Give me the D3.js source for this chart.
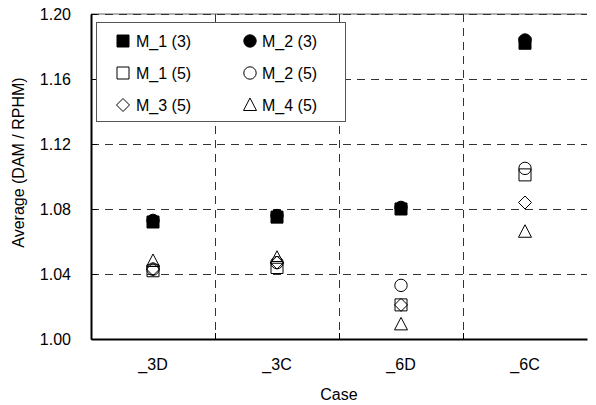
<!DOCTYPE html>
<html><head><meta charset="utf-8">
<script src="https://cdn.jsdelivr.net/npm/d3@7"></script>
<style>body{margin:0;background:#fff}svg{display:block}text{font-family:"Liberation Sans",Arial,sans-serif;fill:#000}</style>
</head><body>
<svg id="c" width="596" height="405"></svg>
<script>
const cases = ["_3D", "_3C", "_6D", "_6C"];
const m1_3 = [1.072, 1.075, 1.080, 1.182];
const m2_3 = [1.073, 1.076, 1.081, 1.184];
const m1_5 = [1.042, 1.044, 1.021, 1.101];
const m2_5 = [1.043, 1.047, 1.033, 1.105];
const m3_5 = [1.043, 1.047, 1.021, 1.084];
const m4_5 = [1.048, 1.050, 1.009, 1.066];
const yTicks = [1.00, 1.04, 1.08, 1.12, 1.16, 1.20];

const series = [
  {name: "M_1 (3)", values: m1_3, shape: "square", fill: true},
  {name: "M_2 (3)", values: m2_3, shape: "circle", fill: true},
  {name: "M_1 (5)", values: m1_5, shape: "square", fill: false},
  {name: "M_2 (5)", values: m2_5, shape: "circle", fill: false},
  {name: "M_3 (5)", values: m3_5, shape: "diamond", fill: false},
  {name: "M_4 (5)", values: m4_5, shape: "triangle", fill: false}
];
const drawOrder = [5, 3, 4, 2, 0, 1];

const L = 91, R = 587, T = 14, B = 339;
const svg = d3.select("#c");
const x = d3.scaleBand().domain(cases).range([L, R]).padding(0);
const y = d3.scaleLinear().domain([1.0, 1.2]).range([B, T]);

function sym(shape) {
  const p = d3.path();
  if (shape === "square") { p.rect(-6, -6, 12, 12); }
  else if (shape === "circle") { p.arc(0, 0, 6.2, 0, 2 * Math.PI); p.closePath(); }
  else if (shape === "diamond") { p.moveTo(0, -6.5); p.lineTo(6.5, 0); p.lineTo(0, 6.5); p.lineTo(-6.5, 0); p.closePath(); }
  else { p.moveTo(0, -7); p.lineTo(6.5, 5.5); p.lineTo(-6.5, 5.5); p.closePath(); }
  return p.toString();
}

// grid
const g = svg.append("g");
g.append("line").attr("x1", L).attr("x2", R).attr("y1", y(1.2)).attr("y2", y(1.2)).attr("stroke", "#999").attr("stroke-width", 1.5);
yTicks.filter(v => v > 1.0).forEach(v => {
  g.append("line").attr("x1", L).attr("x2", R).attr("y1", Math.round(y(v)) + 0.5).attr("y2", Math.round(y(v)) + 0.5)
    .attr("stroke", "#333").attr("stroke-dasharray", "8,6").attr("stroke-width", 1);
});
cases.slice(1).forEach(c => {
  const xx = Math.round(x(c)) + 0.5;
  g.append("line").attr("x1", xx).attr("x2", xx).attr("y1", T).attr("y2", B)
    .attr("stroke", "#333").attr("stroke-dasharray", "8,6").attr("stroke-width", 1);
});

// axes
const yAxis = d3.axisLeft(y).tickValues(yTicks).tickFormat(d3.format(".2f")).tickSizeInner(-6).tickSizeOuter(0).tickPadding(20);
const ya = svg.append("g").attr("transform", `translate(${L},0)`).call(yAxis);
ya.select(".domain").attr("stroke", "#000").attr("stroke-width", 2);
ya.selectAll(".tick line").attr("stroke", "#000");
ya.selectAll("text").style("font-size", "16px").attr("font-family", "Liberation Sans, Arial, sans-serif");

const xAxis = d3.axisBottom(x).tickSize(0).tickPadding(20);
const xa = svg.append("g").attr("transform", `translate(0,${B})`).call(xAxis);
xa.select(".domain").attr("stroke", "#000").attr("stroke-width", 2);
xa.selectAll("text").style("font-size", "16px").attr("font-family", "Liberation Sans, Arial, sans-serif");
cases.slice(1).forEach(c => {
  const xx = Math.round(x(c)) + 0.5;
  svg.append("line").attr("x1", xx).attr("x2", xx).attr("y1", B).attr("y2", B - 6).attr("stroke", "#000");
});

// axis titles
svg.append("text").attr("x", (L + R) / 2).attr("y", 400).attr("text-anchor", "middle").style("font-size", "16px").text("Case");
svg.append("text").attr("transform", `translate(24,${(T + B) / 2 - 14}) rotate(-90)`).attr("text-anchor", "middle").style("font-size", "16px").text("Average (DAM / RPHM)");

// markers
drawOrder.forEach(i => {
  const s = series[i];
  svg.append("g").selectAll("path").data(s.values).join("path")
    .attr("d", sym(s.shape))
    .attr("transform", (d, k) => `translate(${x(cases[k]) + x.bandwidth() / 2},${y(d)})`)
    .attr("fill", s.fill ? "#000" : "none")
    .attr("stroke", "#000").attr("stroke-width", 1);
});

// legend
const lg = svg.append("g");
lg.append("rect").attr("x", 96.5).attr("y", 22.5).attr("width", 249).attr("height", 99).attr("fill", "#fff").attr("stroke", "#555").attr("stroke-width", 1);
series.forEach((s, i) => {
  const col = i % 2, row = Math.floor(i / 2);
  const sx = col === 0 ? 123 : 250;
  const sy = 41 + row * 32;
  lg.append("path").attr("d", sym(s.shape)).attr("transform", `translate(${sx},${sy})`)
    .attr("fill", s.fill ? "#000" : "#fff").attr("stroke", "#000").attr("stroke-width", 1);
  lg.append("text").attr("x", sx + (col === 0 ? 13 : 12)).attr("y", sy + 6).style("font-size", "16px").text(s.name);
});
</script>
</body></html>
